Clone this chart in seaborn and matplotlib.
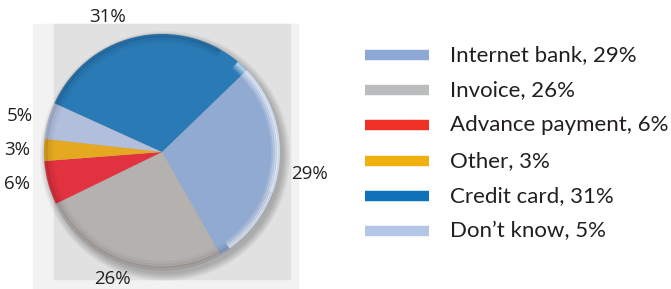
import matplotlib
matplotlib.use("Agg")
import matplotlib.pyplot as plt
import matplotlib.patches as mpatches
import seaborn as sns

# pie order (clockwise from upper right)
slices = ["Internet bank", "Invoice", "Advance payment", "Other", "Don't know", "Credit card"]
shares = [29, 26, 6, 3, 5, 31]
slice_colors = ["#91aad2", "#b5b1ae", "#e2323f", "#e4a920", "#b1bedc", "#2a7ab6"]

# legend order
legend_names = ["Internet bank", "Invoice", "Advance payment", "Other", "Credit card", "Don\u2019t know"]
legend_values = [29, 26, 6, 3, 31, 5]
legend_colors = ["#8ea8d5", "#bbbcbe", "#ee3124", "#f0b110", "#0e72b9", "#b4c6e6"]

# where the percent labels sit (pixels from top-left), same order as slices
label_pos = [(310, 174), (112, 279), (17, 184), (17, 150), (20, 116), (108, 17)]

sns.set_theme(style="white")
plt.rcParams["font.family"] = ["Lato", "DejaVu Sans"]

W, H = 671, 289
fig = plt.figure(figsize=(W / 100, H / 100), dpi=100)
ax = fig.add_axes([0, 0, 1, 1])

# background squares
ax.add_patch(mpatches.Rectangle((33, 0), 265, 265, color="#f2f2f2", zorder=0))
ax.add_patch(mpatches.Rectangle((54, 10), 236, 255, color="#e1e1e1", zorder=0))

cx, cy, r = 162, H - 152, 118

# soft drop shadow
for i in range(8):
    ax.add_patch(mpatches.Circle((cx + 3, cy - 4), r + 7 - i, color="#000000",
                                 alpha=0.03, lw=0, zorder=1))

wedges, texts = ax.pie(shares, colors=slice_colors, startangle=44, counterclock=False,
                       center=(cx, cy), radius=r, wedgeprops=dict(lw=0), frame=True)
for w in wedges:
    w.set_zorder(2)

# rim shading (darker toward lower left) and glossy highlight on the right
for k, a in [(1.5, 0.10), (4, 0.06), (7, 0.03)]:
    ax.add_patch(mpatches.Arc((cx, cy), 2 * (r - k), 2 * (r - k), theta1=60, theta2=340,
                              ec="#000000", lw=3, alpha=a, zorder=3))
for k, a in [(1.5, 0.55), (3.5, 0.4), (5.5, 0.25), (7.5, 0.12)]:
    ax.add_patch(mpatches.Arc((cx, cy), 2 * (r - k), 2 * (r - k), theta1=-55, theta2=50,
                              ec="white", lw=2.2, alpha=a, zorder=3))
ax.set_xlim(0, W)
ax.set_ylim(0, H)
ax.set_aspect("equal")
ax.axis("off")

# percentage labels
for s, (lx, ly) in zip(shares, label_pos):
    ax.text(lx, H - ly, f"{s}%", ha="center", va="center", fontsize=13.5,
            color="#222222", family=["Open Sans", "DejaVu Sans"], zorder=4)

# legend
for i, (name, val, col) in enumerate(zip(legend_names, legend_values, legend_colors)):
    y = H - (55 + i * 35.2)
    ax.plot([365, 429], [y, y], color=col, lw=7.5, solid_capstyle="butt", zorder=4)
    ax.text(450, y, f"{name}, {val}%", ha="left", va="center", fontsize=16,
            color="#231f20", zorder=4)

fig.savefig("out.png", dpi=100)
